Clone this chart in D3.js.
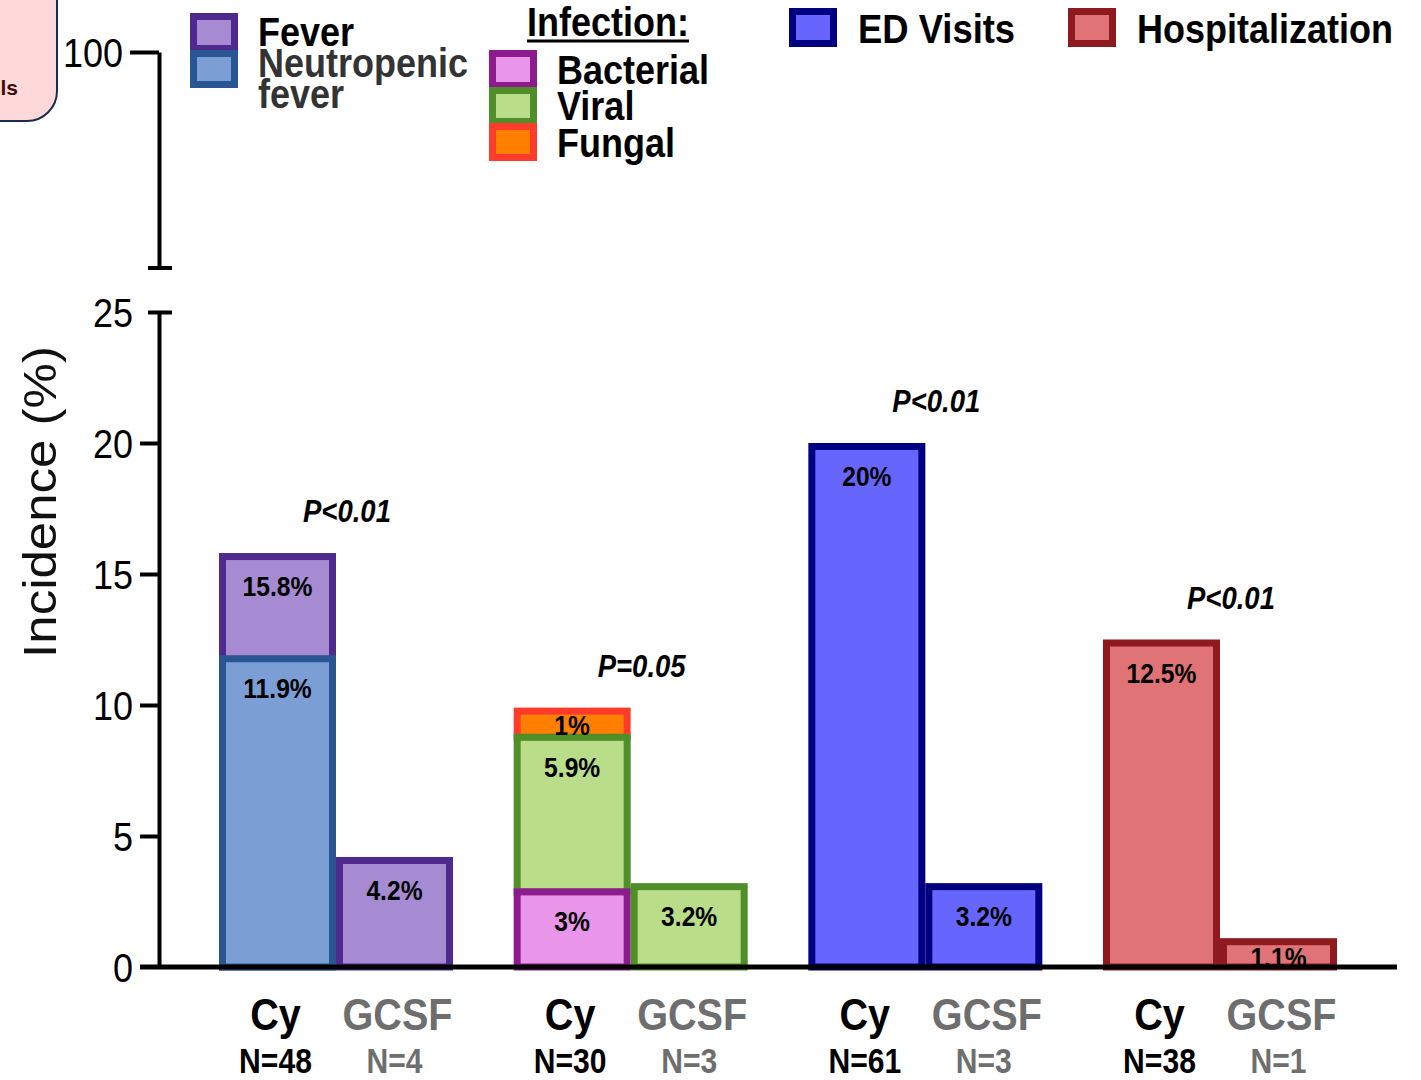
<!DOCTYPE html>
<html>
<head>
<meta charset="utf-8">
<script src="https://cdn.jsdelivr.net/npm/d3@7"></script>
<style>
  html, body { margin: 0; padding: 0; background: #fff; }
  svg { display: block; font-family: "Liberation Sans", Arial, Helvetica, sans-serif; }
</style>
</head>
<body>
<svg id="chart" width="1421" height="1080"></svg>
<script>
// ---- data ----
const categories = ["Fever", "Infection", "ED Visits", "Hospitalization"];
const arms = ["Cy", "GCSF"];
const cyN = [48, 30, 61, 38];
const gcsfN = [4, 3, 3, 1];
const pLabels = ["P<0.01", "P=0.05", "P<0.01", "P<0.01"];

// incidence in percent, [Cy, GCSF]; null = no bar for that arm
const feverPct = [15.8, 4.2];
const neutropenicFeverPct = [11.9, null];
const bacterialPct = [3, null];
const viralPct = [5.9, 3.2];
const fungalPct = [1, null];
const edVisitsPct = [20, 3.2];
const hospitalizationPct = [12.5, 1.1];

const lowerTicks = [0, 5, 10, 15, 20, 25];
const upperTicks = [100];

// ---- styles ----
const palette = {
  fever:       { fill: "#a68bd3", stroke: "#4f2a8e", label: "Fever" },
  neutropenic: { fill: "#7b9fd4", stroke: "#2a5593", label: "Neutropenic fever" },
  bacterial:   { fill: "#e995ea", stroke: "#8d1b8d", label: "Bacterial" },
  viral:       { fill: "#badd89", stroke: "#4f8e28", label: "Viral" },
  fungal:      { fill: "#ff8000", stroke: "#ff3b2b", label: "Fungal" },
  ed:          { fill: "#6666ff", stroke: "#000080", label: "ED Visits" },
  hosp:        { fill: "#df7376", stroke: "#8e1a1f", label: "Hospitalization" }
};
const FONT = '"Liberation Sans", Arial, Helvetica, sans-serif';
const SQ = 0.89;          // horizontal text squeeze
const SW = 7;             // bar border width

const svg = d3.select("#chart");

// ---- scales ----
const y = d3.scaleLinear().domain([0, 25]).range([967, 312]);
const yTop = d3.scaleLinear().domain([90, 100]).range([268, 52]);
const xGroup = d3.scalePoint().domain(categories).range([336, 1220]);
const xArm = d3.scaleBand().domain(arms).range([-117, 117]).padding(0);
const bw = xArm.bandwidth();
const axisX = 159;

// ---- build bar segments (drawn in list order; later ones on top) ----
const marks = [];
function add(cat, armIdx, y0, y1, key, labelLow) {
  marks.push({ cat, arm: arms[armIdx], y0, y1, key, labelLow: labelLow ?? y0, value: null });
}
// Fever: total fever bar, neutropenic fever drawn over its lower part
arms.forEach((a, i) => {
  if (feverPct[i] != null) {
    const low = neutropenicFeverPct[i] != null ? neutropenicFeverPct[i] : 0;
    add("Fever", i, 0, feverPct[i], "fever", low);
    marks[marks.length - 1].value = feverPct[i];
  }
  if (neutropenicFeverPct[i] != null) {
    add("Fever", i, 0, neutropenicFeverPct[i], "neutropenic");
    marks[marks.length - 1].value = neutropenicFeverPct[i];
  }
});
// Infection: stacked bacterial / viral / fungal, drawn top segment first
arms.forEach((a, i) => {
  const b = bacterialPct[i] || 0, v = viralPct[i] || 0, f = fungalPct[i] || 0;
  const segs = [];
  if (bacterialPct[i] != null) segs.push({ y0: 0, y1: b, key: "bacterial", value: b });
  if (viralPct[i] != null) segs.push({ y0: b, y1: +(b + v).toFixed(2), key: "viral", value: v });
  if (fungalPct[i] != null) segs.push({ y0: +(b + v).toFixed(2), y1: +(b + v + f).toFixed(2), key: "fungal", value: f });
  segs.reverse().forEach(s => {
    add("Infection", i, s.y0, s.y1, s.key);
    marks[marks.length - 1].value = s.value;
  });
});
arms.forEach((a, i) => {
  add("ED Visits", i, 0, edVisitsPct[i], "ed");
  marks[marks.length - 1].value = edVisitsPct[i];
});
arms.forEach((a, i) => {
  add("Hospitalization", i, 0, hospitalizationPct[i], "hosp");
  marks[marks.length - 1].value = hospitalizationPct[i];
});

// squeezed text helper
function sqText(g, x, yy, txt, opts) {
  const t = g.append("text")
    .attr("transform", `translate(${x},${yy}) scale(${opts.sq ?? SQ},1)`)
    .attr("text-anchor", opts.anchor || "start")
    .attr("font-family", FONT)
    .attr("font-size", opts.size)
    .attr("font-weight", opts.weight || "bold")
    .attr("font-style", opts.style || "normal")
    .attr("fill", opts.fill || "#000")
    .text(txt);
  return t;
}

// ---- bars ----
const barG = svg.append("g");
barG.selectAll("rect.bar")
  .data(marks)
  .join("rect")
  .attr("class", "bar")
  .attr("x", d => xGroup(d.cat) + xArm(d.arm) + SW / 2)
  .attr("width", bw - SW)
  .attr("y", d => y(d.y1) + SW / 2)
  .attr("height", d => y(d.y0) - y(d.y1) - (d.y0 === 0 ? SW / 2 : 0))
  .attr("fill", d => palette[d.key].fill)
  .attr("stroke", d => palette[d.key].stroke)
  .attr("stroke-width", SW);

// value labels
const labG = svg.append("g");
marks.forEach(d => {
  const top = y(d.y1), low = y(d.labelLow);
  const cy = Math.min(top + 33, (top + low) / 2 + 4);
  sqText(labG, xGroup(d.cat) + xArm(d.arm) + bw / 2, cy + 10, `${d.value}%`,
    { size: 28, anchor: "middle", sq: 0.88 });
});

// p-values above each pair
categories.forEach((c, i) => {
  const tops = marks.filter(m => m.cat === c).map(m => m.y1);
  const top = y(d3.max(tops));
  sqText(svg, xGroup(c) + 11, top - 42 + 11, pLabels[i],
    { size: 32, anchor: "middle", style: "italic", sq: 0.86 });
});

// ---- axes ----
const lowerAxis = d3.axisLeft(y).tickValues(lowerTicks).tickSize(19).tickSizeOuter(0)
  .tickPadding(7).tickFormat(d3.format("d"));
const gLow = svg.append("g").attr("transform", `translate(${axisX},0)`).call(lowerAxis);
const upperAxis = d3.axisLeft(yTop).tickValues(upperTicks).tickSize(29).tickSizeOuter(0)
  .tickPadding(7).tickFormat(d3.format("d"));
const gUp = svg.append("g").attr("transform", `translate(${axisX},0)`).call(upperAxis);

[gLow, gUp].forEach(g => {
  g.select(".domain").attr("stroke", "#000").attr("stroke-width", 4);
  g.selectAll(".tick line").attr("stroke", "#000").attr("stroke-width", 4);
  g.selectAll(".tick text").each(function () {
    const t = d3.select(this);
    const x = +t.attr("x");
    t.attr("x", 0).attr("dy", null)
      .attr("transform", `translate(${x},14) scale(0.9,1)`)
      .attr("font-family", FONT).attr("font-size", 40).attr("fill", "#000");
  });
});
// axis break caps: top of lower segment and bottom of upper segment
gLow.selectAll(".tick").filter(d => d === 25).select("line").attr("x1", -11).attr("x2", 13);
gLow.selectAll(".tick").filter(d => d === 0).select("line").remove();
gUp.append("line").attr("x1", -11).attr("x2", 13)
  .attr("y1", yTop.range()[0]).attr("y2", yTop.range()[0])
  .attr("stroke", "#000").attr("stroke-width", 4);

// baseline
svg.append("line").attr("x1", 140).attr("x2", 1397).attr("y1", y(0)).attr("y2", y(0))
  .attr("stroke", "#000").attr("stroke-width", 5);

// y title
svg.append("text")
  .attr("transform", `translate(56,502) scale(0.92,1) rotate(-90)`)
  .attr("text-anchor", "middle")
  .attr("font-family", FONT).attr("font-size", 51).attr("fill", "#111")
  .text("Incidence (%)");

// ---- category labels under bars ----
categories.forEach((c, i) => {
  const cx = xGroup(c) + xArm("Cy") + bw / 2;
  const gx = xGroup(c) + xArm("GCSF") + bw / 2;
  sqText(svg, cx - 2, 1030, "Cy", { size: 44, anchor: "middle", sq: 0.9 });
  sqText(svg, gx + 3, 1030, "GCSF", { size: 44, anchor: "middle", sq: 0.9, fill: "#6e6e6e" });
  sqText(svg, cx - 2, 1073, `N=${cyN[i]}`, { size: 35, anchor: "middle", sq: 0.86 });
  sqText(svg, gx, 1073, `N=${gcsfN[i]}`, { size: 35, anchor: "middle", sq: 0.86, fill: "#6e6e6e" });
});

// ---- legend ----
const leg = svg.append("g");
function swatch(x, yy, h, key) {
  leg.append("rect")
    .attr("x", x + 3.5).attr("y", yy + 3.5).attr("width", 48 - 7).attr("height", h - 7)
    .attr("fill", palette[key].fill).attr("stroke", palette[key].stroke).attr("stroke-width", 7);
}
swatch(190, 13, 39, "fever");
swatch(190, 50, 38, "neutropenic");
sqText(leg, 258, 46, "Fever", { size: 40, sq: 0.9 });
sqText(leg, 258, 77, "Neutropenic", { size: 40, fill: "#333", sq: 0.9 });
sqText(leg, 258, 108, "fever", { size: 40, fill: "#333", sq: 0.9 });

sqText(leg, 527, 36, "Infection:", { size: 40, sq: 0.9 });
leg.append("line").attr("x1", 527).attr("x2", 689).attr("y1", 41).attr("y2", 41)
  .attr("stroke", "#000").attr("stroke-width", 3);
swatch(489, 50, 39, "bacterial");
swatch(489, 87, 38, "viral");
swatch(489, 123, 38, "fungal");
sqText(leg, 557, 84, "Bacterial", { size: 40, sq: 0.9 });
sqText(leg, 557, 120, "Viral", { size: 40, sq: 0.9 });
sqText(leg, 557, 157, "Fungal", { size: 40, sq: 0.9 });

swatch(789, 8, 39, "ed");
sqText(leg, 858, 43, "ED Visits", { size: 40, sq: 0.91 });
swatch(1068, 8, 39, "hosp");
sqText(leg, 1137, 43, "Hospitalization", { size: 40, sq: 0.9 });

// ---- corner tab ----
svg.append("rect").attr("x", -60).attr("y", -30).attr("width", 117).attr("height", 151).attr("rx", 30)
  .attr("fill", "#ffd9d9").attr("stroke", "#1d2b4f").attr("stroke-width", 2);
svg.append("text").attr("x", 18).attr("y", 95).attr("text-anchor", "end")
  .attr("font-family", FONT).attr("font-size", 21).attr("font-weight", "bold").attr("fill", "#3d0c0c")
  .text("ls");
</script>
</body>
</html>
